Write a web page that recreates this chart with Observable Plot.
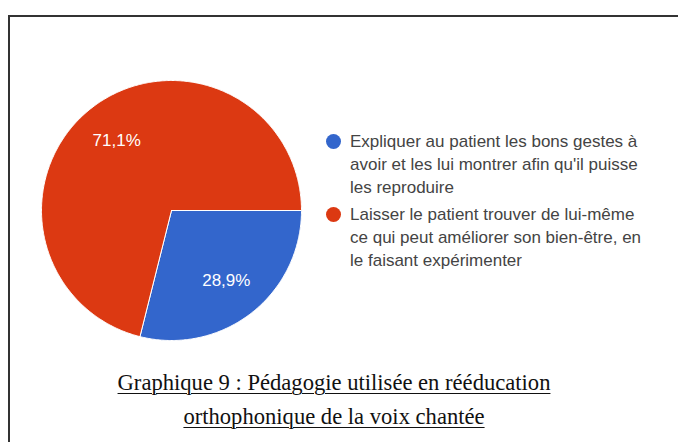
<!DOCTYPE html>
<html>
<head>
<meta charset="utf-8">
<script src="https://cdn.jsdelivr.net/npm/d3@7"></script>
<script src="https://cdn.jsdelivr.net/npm/@observablehq/plot@0.6"></script>
<style>
  html, body { margin: 0; padding: 0; background: #fff; }
  body { width: 678px; height: 442px; position: relative; overflow: hidden; }
  #frame { position: absolute; left: 8px; top: 15px; width: 680px; height: 440px;
           border-top: 2px solid #333; border-left: 2px solid #333; box-sizing: border-box; }
  #chart { position: absolute; left: 0; top: 0; }
  #legend { position: absolute; left: 325px; top: 130px; font-family: "Liberation Sans", Arial, sans-serif;
            font-size: 17px; line-height: 23px; color: #444; }
  .item { position: relative; padding-left: 25px; margin-bottom: 4px; white-space: nowrap; }
  .dot { position: absolute; left: 0.5px; top: 4px; width: 15px; height: 15px; border-radius: 50%; }
  #caption { position: absolute; left: 0; top: 366px; width: 668px; text-align: center;
             font-family: "Liberation Serif", "Times New Roman", serif; font-size: 22.6px; line-height: 34px;
             color: #111; text-decoration: underline; text-decoration-thickness: 1px; text-underline-offset: 3px; }
</style>
</head>
<body>
<div id="frame"></div>
<div id="chart"></div>
<div id="legend"></div>
<div id="caption"></div>
<script>
// Data
const legendLines = [
  ["Expliquer au patient les bons gestes à", "avoir et les lui montrer afin qu'il puisse", "les reproduire"],
  ["Laisser le patient trouver de lui-même", "ce qui peut améliorer son bien-être, en", "le faisant expérimenter"]
];
const categories = legendLines.map(l => l.join(" "));
const values = [28.9, 71.1];
const colors = ["#3366cc", "#dc3912"];
const captionLines = ["Graphique 9 : Pédagogie utilisée en rééducation", "orthophonique de la voix chantée"];

// Pie geometry
const pie = d3.pie().sort(null).value(d => d.value)
  .startAngle(Math.PI / 2).endAngle(Math.PI / 2 + 2 * Math.PI);
const arcs = pie(categories.map((c, i) => ({category: c, value: values[i], color: colors[i]})));

function slicePoints(a) {
  const n = Math.max(8, Math.ceil((a.endAngle - a.startAngle) / 0.01));
  const pts = [{x: 0, y: 0}];
  for (let k = 0; k <= n; k++) {
    const t = a.startAngle + (a.endAngle - a.startAngle) * k / n;
    pts.push({x: Math.sin(t), y: Math.cos(t)});
  }
  pts.push({x: 0, y: 0});
  return pts;
}

const labelR = 0.685;
const labels = arcs.map(a => {
  const m = (a.startAngle + a.endAngle) / 2;
  return {x: labelR * Math.sin(m), y: labelR * Math.cos(m),
          text: a.data.value.toFixed(1).replace(".", ",") + "%"};
});

const cx = 171, cy = 210, R = 130;
const plot = Plot.plot({
  width: 330, height: 360,
  margin: 0,
  x: {domain: [-1, 1], range: [cx - R, cx + R], axis: null},
  y: {domain: [-1, 1], range: [cy + R, cy - R], axis: null},
  style: {background: "transparent"},
  marks: [
    ...arcs.map(a => Plot.line(slicePoints(a), {x: "x", y: "y", fill: a.data.color, stroke: "#fff", strokeWidth: 1, strokeLinejoin: "round"})),
    Plot.text(labels, {x: "x", y: "y", text: "text", fill: "#fff", fontSize: 17,
      fontFamily: "Liberation Sans, Arial, sans-serif", textAnchor: "middle", dy: 0})
  ]
});
document.getElementById("chart").appendChild(plot);

// Legend
const legend = document.getElementById("legend");
legendLines.forEach((lines, i) => {
  const item = document.createElement("div");
  item.className = "item";
  const dot = document.createElement("span");
  dot.className = "dot";
  dot.style.background = colors[i];
  item.appendChild(dot);
  lines.forEach((t, j) => {
    if (j) item.appendChild(document.createElement("br"));
    item.appendChild(document.createTextNode(t));
  });
  legend.appendChild(item);
});

// Caption
const cap = document.getElementById("caption");
captionLines.forEach((t, j) => {
  if (j) cap.appendChild(document.createElement("br"));
  cap.appendChild(document.createTextNode(t));
});
</script>
</body>
</html>
